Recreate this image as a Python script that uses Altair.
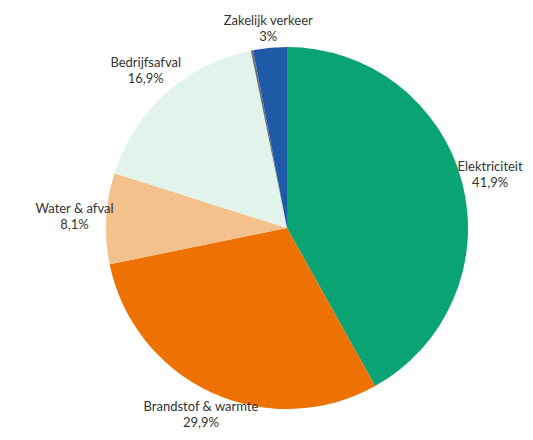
import altair as alt
import pandas as pd

categories = ["Elektriciteit", "Brandstof & warmte", "Water & afval", "Bedrijfsafval", "Overig", "Zakelijk verkeer"]
values = [41.9, 29.9, 8.1, 16.9, 0.2, 3.0]
label_names = ["Elektriciteit", "Brandstof & warmte", "Water & afval", "Bedrijfsafval", "", "Zakelijk verkeer"]
label_pcts = ["41,9%", "29,9%", "8,1%", "16,9%", "", "3%"]
colors = ["#0aa374", "#ee7203", "#f4c08b", "#e1f3ea", "#707070", "#1e5aa8"]

df = pd.DataFrame({
    "categorie": categories,
    "waarde": values,
    "naam": label_names,
    "pct": label_pcts,
    "volgorde": list(range(len(categories))),
})

arcs = alt.Chart(df).mark_arc(outerRadius=181).encode(
    theta=alt.Theta("waarde:Q", stack=True),
    order=alt.Order("volgorde:Q", sort="ascending"),
    color=alt.Color("categorie:N", scale=alt.Scale(domain=categories, range=colors), legend=None),
)

# label boxes sit just outside the pie edge: push each label out by about
# half its (estimated) text width/height in the direction of its slice
text = alt.Chart(df).transform_joinaggregate(
    totaal="sum(waarde)"
).transform_window(
    cum="sum(waarde)", sort=[alt.SortField("volgorde")], frame=[None, 0]
).transform_calculate(
    midval="datum.cum - datum.waarde / 2"
).transform_calculate(
    mid="datum.midval / datum.totaal * 2 * PI"
).transform_calculate(
    tekst="datum.naam ? datum.naam + '\\n' + datum.pct : ''"
).transform_calculate(
    smal="length(datum.naam) - length(replace(datum.naam, regexp('[iljtfr ,.]', 'g'), ''))"
).transform_calculate(
    breed="length(datum.naam) - length(replace(datum.naam, regexp('[mwWM&]', 'g'), ''))"
).transform_calculate(
    breedte="(length(datum.naam) - datum.smal - datum.breed) * 7.2 + datum.breed * 10 + datum.smal * 3.6"
).transform_calculate(
    rlabel="181 + 0.8 * datum.breedte / 2 * abs(sin(datum.mid)) + (cos(datum.mid) > 0 ? 15 : 7) * abs(cos(datum.mid))"
).mark_text(
    font="Lato", fontSize=13, color="#333333",
    lineBreak="\n", lineHeight=16, align="center", baseline="middle", dy=-8,
).encode(
    theta=alt.Theta("midval:Q", stack=None),
    text="tekst:N",
    radius=alt.Radius("rlabel:Q", scale=None),
)

chart = (arcs + text).properties(
    width=400, height=400,
    autosize=alt.AutoSizeParams(type="none"),
    padding={"left": 79, "top": 20, "right": 38, "bottom": 4},
).configure_view(stroke=None)

chart.save("out.html", embed_options={"renderer": "svg", "actions": False})
